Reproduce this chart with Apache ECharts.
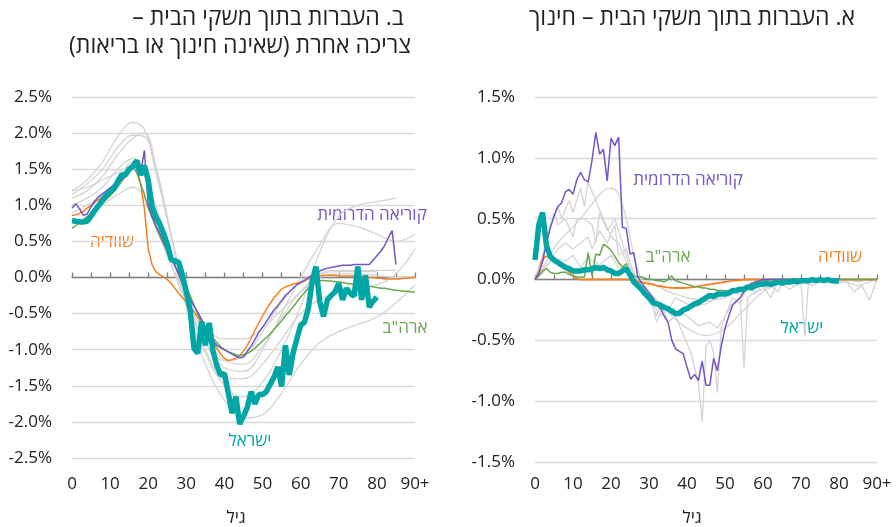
<!DOCTYPE html>
<html lang="he">
<head>
<meta charset="UTF-8">
<title>העברות בתוך משקי הבית</title>
<script src="https://cdn.jsdelivr.net/npm/echarts@6/dist/echarts.min.js"></script>
<style>
  html, body { margin: 0; background: #fff; }
  #chart { width: 896px; height: 527px; }
</style>
</head>
<body>
<div id="chart"></div>
<script>
// ---- data: share of income (%) by age ----
// left panel (ב) - other consumption, one value per year of age from 0
var leftIsrael = [0.79,0.78,0.77,0.77,0.78,0.85,0.93,1.0,1.07,1.14,1.19,1.23,1.33,1.42,1.42,1.5,1.54,1.62,1.42,1.55,1.35,0.98,0.84,0.74,0.62,0.46,0.25,0.23,0.21,0.03,-0.2,-0.45,-0.98,-1.05,-0.61,-0.94,-0.63,-1.02,-1.22,-1.35,-1.33,-1.6,-1.88,-1.65,-2.03,-1.92,-1.8,-1.58,-1.75,-1.62,-1.62,-1.58,-1.48,-1.38,-1.24,-1.51,-0.94,-1.35,-1.05,-0.85,-0.66,-0.62,-0.43,-0.06,0.15,-0.33,-0.54,-0.31,-0.25,-0.2,-0.08,-0.31,-0.15,-0.22,-0.26,0.15,-0.31,0.03,-0.41,-0.33,-0.27];
var leftKorea = [0.96,1.02,0.95,0.86,0.88,0.98,1.06,1.12,1.16,1.2,1.24,1.28,1.31,1.35,1.4,1.46,1.52,1.55,1.45,1.76,1.0,0.85,0.72,0.62,0.5,0.38,0.27,0.16,0.04,-0.09,-0.2,-0.3,-0.4,-0.48,-0.58,-0.68,-0.8,-0.88,-0.94,-0.97,-1.0,-1.03,-1.06,-1.09,-1.11,-1.1,-1.02,-0.95,-0.86,-0.76,-0.69,-0.61,-0.53,-0.45,-0.39,-0.32,-0.25,-0.2,-0.15,-0.1,-0.07,-0.04,0.0,0.03,0.06,0.09,0.11,0.13,0.14,0.15,0.16,0.17,0.17,0.17,0.18,0.18,0.18,0.18,0.18,0.24,0.3,0.36,0.44,0.55,0.65,0.18];
var leftSweden = [0.86,0.87,0.89,0.92,0.96,1.0,1.04,1.08,1.12,1.16,1.2,1.25,1.31,1.38,1.45,1.52,1.58,1.5,1.3,0.95,0.4,0.18,0.08,0.04,0.01,-0.03,-0.08,-0.15,-0.22,-0.28,-0.34,-0.4,-0.47,-0.55,-0.63,-0.71,-0.8,-0.89,-0.98,-1.06,-1.12,-1.15,-1.14,-1.12,-1.08,-1.02,-0.94,-0.84,-0.73,-0.63,-0.53,-0.44,-0.36,-0.28,-0.22,-0.16,-0.13,-0.11,-0.09,-0.08,-0.07,-0.05,-0.02,0.0,0.01,0.02,0.03,0.03,0.03,0.03,0.02,0.02,0.02,0.02,0.02,0.02,0.01,0.01,0.0,0.0,-0.01,-0.01,-0.02,-0.02,-0.02,-0.02,-0.02,-0.01,-0.01,0.0,0.0];
var leftUSA = [0.68,0.72,0.76,0.8,0.84,0.88,0.93,0.98,1.03,1.08,1.13,1.19,1.26,1.33,1.4,1.48,1.53,1.45,1.3,1.15,0.96,0.83,0.7,0.58,0.47,0.36,0.26,0.17,0.07,-0.02,-0.13,-0.25,-0.38,-0.51,-0.61,-0.7,-0.78,-0.84,-0.9,-0.96,-1.0,-1.03,-1.05,-1.07,-1.08,-1.07,-1.05,-1.02,-0.98,-0.93,-0.88,-0.83,-0.78,-0.72,-0.66,-0.6,-0.53,-0.47,-0.41,-0.34,-0.27,-0.21,-0.15,-0.1,-0.06,-0.04,-0.04,-0.05,-0.05,-0.06,-0.06,-0.07,-0.08,-0.09,-0.09,-0.1,-0.11,-0.12,-0.12,-0.13,-0.14,-0.15,-0.15,-0.16,-0.17,-0.18,-0.18,-0.19,-0.19,-0.2,-0.2];

// other countries (grey), sampled at these ages
var leftGrayAges = [0,4,8,12,16,19,22,25,28,30,35,40,45,50,55,60,65,70,75,80,85,90];
var leftGray = [
  [1.2,1.35,1.6,1.95,2.15,2.05,1.5,0.8,0.15,-0.3,-1.0,-1.5,-1.65,-1.45,-1.0,-0.4,0.35,0.85,1.0,1.05,1.1,null],
  [1.15,1.3,1.5,1.8,1.97,1.95,1.45,0.8,0.1,-0.4,-1.2,-1.7,-1.95,-1.9,-1.6,-1.2,-0.9,-0.75,-0.65,-0.55,-0.35,-0.1],
  [1.1,1.2,1.4,1.7,1.93,2.0,1.55,0.85,0.1,-0.3,-0.9,-1.25,-1.3,-1.0,-0.5,0.0,0.45,0.75,0.7,0.6,0.5,0.6],
  [1.0,1.1,1.25,1.5,1.65,1.45,0.95,0.45,0.05,-0.3,-0.8,-1.15,-1.2,-0.95,-0.55,-0.2,0.05,0.1,0.1,0.1,0.1,null],
  [0.75,0.85,1.0,1.15,1.25,1.1,0.7,0.3,-0.05,-0.3,-0.7,-0.85,-0.85,-0.7,-0.45,-0.2,0.0,0.05,0.05,0.03,0.0,0.0],
  [1.2,1.25,1.35,1.45,1.55,1.4,1.0,0.5,0.0,-0.4,-1.05,-1.4,-1.4,-1.2,-0.85,-0.5,-0.3,-0.2,-0.15,-0.1,0.05,0.4],
  [0.9,1.0,1.15,1.35,1.6,1.5,0.9,0.35,-0.1,-0.35,-0.9,-1.15,-1.1,-0.75,-0.35,-0.05,0.05,0.08,0.08,0.08,null,null]
];

// right panel (א) - education
var rightIsrael = [0.16,0.45,0.55,0.28,0.19,0.16,0.14,0.12,0.1,0.09,0.07,0.07,0.07,0.08,0.08,0.09,0.1,0.09,0.1,0.08,0.07,0.05,0.05,0.07,0.09,0.04,-0.02,-0.05,-0.08,-0.12,-0.15,-0.19,-0.2,-0.21,-0.23,-0.24,-0.26,-0.28,-0.28,-0.25,-0.24,-0.22,-0.2,-0.19,-0.17,-0.15,-0.13,-0.14,-0.12,-0.12,-0.12,-0.11,-0.09,-0.09,-0.08,-0.08,-0.06,-0.07,-0.05,-0.04,-0.04,-0.03,-0.04,-0.03,-0.02,-0.03,-0.02,-0.02,-0.01,-0.02,-0.01,-0.01,-0.01,0.0,-0.01,0.0,-0.01,0.0,-0.01,-0.01,-0.01];
var rightKorea = [0.0,0.05,0.15,0.3,0.42,0.52,0.6,0.63,0.72,0.74,0.7,0.82,0.88,0.82,0.8,0.98,1.21,1.03,1.07,0.81,1.16,1.1,1.17,0.43,0.42,0.21,0.22,0.03,-0.03,-0.07,-0.11,-0.15,-0.2,-0.24,-0.3,-0.35,-0.5,-0.57,-0.59,-0.61,-0.72,-0.82,-0.78,-0.83,-0.67,-0.87,-0.87,-0.65,-0.75,-0.55,-0.4,-0.3,-0.21,-0.18,-0.15,-0.1,-0.06,-0.03,-0.02,-0.01,0.0,0.0,0.0,0.0,0.0,0.0,0.0,0.0,0.0,0.0,0.0,0.0,0.0,0.0,0.0,0.0,0.0,0.0,0.0,0.0,0.0];
var rightSweden = [0.0,0.06,0.16,0.19,0.18,0.16,0.14,0.12,0.09,0.06,0.03,0.01,0.0,0.0,0.0,0.0,0.0,0.0,0.0,0.0,0.0,0.0,0.0,0.0,0.0,0.0,-0.01,-0.015,-0.02,-0.03,-0.035,-0.04,-0.05,-0.055,-0.06,-0.065,-0.068,-0.07,-0.07,-0.07,-0.068,-0.065,-0.06,-0.055,-0.05,-0.045,-0.04,-0.035,-0.03,-0.025,-0.02,-0.015,-0.01,-0.008,-0.005,0.0,0.0,0.0,0.0,0.0,0.0,0.0,0.0,0.0,0.0,0.0,0.0,0.0,0.0,0.0,0.0,0.0,0.0,0.0,0.0,0.0,0.0,0.0,0.0,0.0,0.0,0.0,0.0,0.0,0.0,0.0,0.0,0.0,0.0,0.0,0.0];
var rightUSA = [0.0,0.03,0.07,0.09,0.06,0.05,0.05,0.06,0.06,0.04,0.03,0.02,0.02,0.02,0.22,0.03,0.21,0.2,0.29,0.27,0.24,0.19,0.14,0.1,0.13,0.06,0.03,0.02,0.02,0.01,0.0,0.0,-0.01,-0.01,-0.02,0.0,0.03,-0.01,-0.02,-0.03,-0.04,-0.05,-0.06,-0.06,-0.07,-0.07,-0.08,-0.08,-0.09,-0.09,-0.09,-0.1,-0.09,-0.09,-0.08,-0.07,-0.05,-0.04,-0.03,-0.02,-0.01,0.0,0.0,0.0,0.0,0.0,0.0,0.0,0.0,0.0,0.0,0.0,0.0,0.0,0.0,0.0,0.0,0.0,0.0,0.0,0.0,0.0,0.0,0.0,0.0,0.0,0.0,0.0,0.0,0.0,0.0];

var rightGrayAges = [
  [0,2,4,6,7,9,10,12,13,14,16,18,20,22,24,26,28,30,32,33,35,37,39,41,43,44,45,46,47,48,49,50,52,54,55,56,58,60,62,64,65,68,70,71,72,75,78,80,82,84,86,88,90],
  [0,3,6,9,12,15,18,20,22,24,26,28,30,33,36,40,45,50,55,60,65,70,80,90],
  [0,3,5,6,8,10,11,13,15,16,17,19,21,23,25,27,30,32,34,36,38,40,43,46,48,50,52,54,56,58,60,63,66,70,75,80,85,90],
  [0,3,5,8,10,12,14,17,20,22,25,28,32,35,40,45,50,55,60,65,70,75,80,85,90],
  [0,2,4,6,8,10,12,14,15,17,19,21,22,24,26,28,31,33,35,37,40,42,45,48,51,54,57,60,62,64,67,70,73,76,79,82,85,88,90]
];
var rightGray = [
  [0,0.2,0.45,0.6,0.5,0.65,0.55,0.75,0.6,0.8,0.65,0.5,0.35,0.3,0.15,0.05,-0.05,-0.15,-0.3,-0.2,-0.35,-0.3,-0.45,-0.6,-0.85,-1.17,-0.55,-0.5,-0.6,-0.93,-0.4,-0.3,-0.2,-0.15,-0.73,-0.15,-0.1,-0.08,-0.05,-0.1,-0.02,-0.05,-0.03,-0.47,0.0,-0.02,0.0,-0.03,-0.02,-0.1,-0.05,-0.17,0.0],
  [0,0.15,0.3,0.4,0.5,0.62,0.73,0.75,0.7,0.5,0.2,0.0,-0.1,-0.2,-0.3,-0.4,-0.46,-0.4,-0.25,-0.1,-0.03,0.0,0.0,0.0],
  [0,0.3,0.55,0.45,0.5,0.35,0.5,0.5,0.45,0.3,0.55,0.4,0.5,0.3,0.1,0.0,-0.1,-0.35,-0.2,-0.3,-0.25,-0.3,-0.38,-0.35,-0.4,-0.3,-0.15,-0.2,-0.05,-0.12,-0.02,-0.05,-0.02,-0.01,0.0,0.0,-0.05,0.0],
  [0,0.12,0.18,0.15,0.2,0.1,0.18,0.12,0.2,0.1,0.05,0.0,-0.05,-0.1,-0.15,-0.18,-0.15,-0.08,-0.03,0.0,-0.02,0.0,0.0,0.0,0.0],
  [0,0.05,0.15,0.25,0.3,0.25,0.3,0.35,0.25,0.4,0.3,0.45,0.2,0.25,0.05,-0.05,-0.2,-0.3,-0.25,-0.15,-0.2,-0.22,-0.2,-0.15,-0.1,-0.12,-0.05,-0.05,-0.15,-0.02,-0.08,-0.02,-0.05,0.0,-0.04,0.0,-0.02,0.0,0.0]
];

var xTicks = [0, 10, 20, 30, 40, 50, 60, 70, 80, 90];

// ---- helpers ----
var TEAL = '#00a6a6', PURPLE = '#7455c4', ORANGE = '#f58025', GREEN = '#6aa84f', GREY = '#d4d4d4';
var FONT = '"Open Sans", "DejaVu Sans", sans-serif';

function pairs(ages, vals) {
  var out = [];
  for (var i = 0; i < vals.length; i++) {
    if (vals[i] !== null) out.push([ages ? ages[i] : i, vals[i]]);
  }
  return out;
}

function line(grid, data, color, width, smooth) {
  return {
    type: 'line', xAxisIndex: grid * 2, yAxisIndex: grid,
    data: data, showSymbol: false, smooth: smooth || false,
    lineStyle: { color: color, width: width }, silent: true
  };
}

function labelAxis(grid, margin) {
  return {
    type: 'value', gridIndex: grid, min: 0, max: 90, interval: 10,
    axisLine: { show: false, onZero: false }, axisTick: { show: false }, splitLine: { show: false },
    axisLabel: {
      margin: margin, fontSize: 17, color: '#222', fontFamily: FONT,
      formatter: function (v) { return xTicks.indexOf(v) < 0 ? '' : (v === 90 ? '90+' : String(v)); }
    }
  };
}

function tickAxis(grid) {
  return {
    type: 'value', gridIndex: grid, min: 0, max: 90, interval: 5,
    axisLine: { show: true, onZero: true, lineStyle: { color: '#7f7f7f', width: 1.3 } },
    axisTick: { show: true, length: 5, lineStyle: { color: '#7f7f7f', width: 1.3 } },
    axisLabel: { show: false }, splitLine: { show: false }
  };
}

function yAxis(grid, lim) {
  return {
    type: 'value', gridIndex: grid, min: -lim, max: lim, interval: 0.5,
    axisLine: { show: false }, axisTick: { show: false },
    splitLine: { lineStyle: { color: '#d9d9d9', width: 1.3 } },
    axisLabel: {
      margin: 20, fontSize: 17, color: '#222', fontFamily: FONT,
      formatter: function (v) { return v.toFixed(1) + '%'; }
    }
  };
}

function txt(x, y, s, color, size) {
  return {
    type: 'text', x: x, y: y, silent: true,
    style: { text: s, fill: color, font: size + 'px ' + FONT, textAlign: 'center', verticalAlign: 'middle' }
  };
}

var series = [];
leftGray.forEach(function (g) { series.push(line(0, pairs(leftGrayAges, g), GREY, 1.3, 0.4)); });
rightGray.forEach(function (g, i) { series.push(line(1, pairs(rightGrayAges[i], g), GREY, 1.3, i === 1 ? 0.4 : false)); });
series.push(line(0, pairs(null, leftSweden), ORANGE, 1.5));
series.push(line(0, pairs(null, leftUSA), GREEN, 1.5));
series.push(line(0, pairs(null, leftKorea), PURPLE, 1.5));
series.push(line(0, pairs(null, leftIsrael), TEAL, 5.5));
series.push(line(1, pairs(null, rightSweden), ORANGE, 1.8, 0.4));
series.push(line(1, pairs(null, rightUSA), GREEN, 1.5));
series.push(line(1, pairs(null, rightKorea), PURPLE, 1.5));
series.push(line(1, pairs(null, rightIsrael), TEAL, 5.5));

var RLM = '\u200F';
var chart = echarts.init(document.getElementById('chart'), null, { renderer: 'canvas' });
chart.setOption({
  animation: false,
  backgroundColor: '#fff',
  grid: [
    { left: 72, right: 481, top: 97, bottom: 69 },
    { left: 535, right: 19, top: 97, bottom: 65 }
  ],
  xAxis: [labelAxis(0, 18), tickAxis(0), labelAxis(1, 14), tickAxis(1)],
  yAxis: [yAxis(0, 2.5), yAxis(1, 1.5)],
  series: series,
  graphic: [
    txt(268, 18, RLM + 'ב. העברות בתוך משקי הבית –' + RLM, '#222', 23),
    txt(240, 46, RLM + 'צריכה אחרת (שאינה חינוך או בריאות)' + RLM, '#222', 23),
    txt(692, 18, RLM + 'א. העברות בתוך משקי הבית – חינוך' + RLM, '#222', 23),
    txt(372, 215, 'קוריאה הדרומית', PURPLE, 17),
    txt(112, 242, 'שוודיה', ORANGE, 17),
    txt(405, 328, 'ארה"ב', GREEN, 17),
    txt(250, 441, 'ישראל', TEAL, 17),
    txt(688, 180, 'קוריאה הדרומית', PURPLE, 17),
    txt(668, 257, 'ארה"ב', GREEN, 17),
    txt(840, 257, 'שוודיה', ORANGE, 17),
    txt(802, 328, 'ישראל', TEAL, 17),
    txt(236, 518, 'גיל', '#222', 17),
    txt(692, 518, 'גיל', '#222', 17)
  ]
});
</script>
</body>
</html>
